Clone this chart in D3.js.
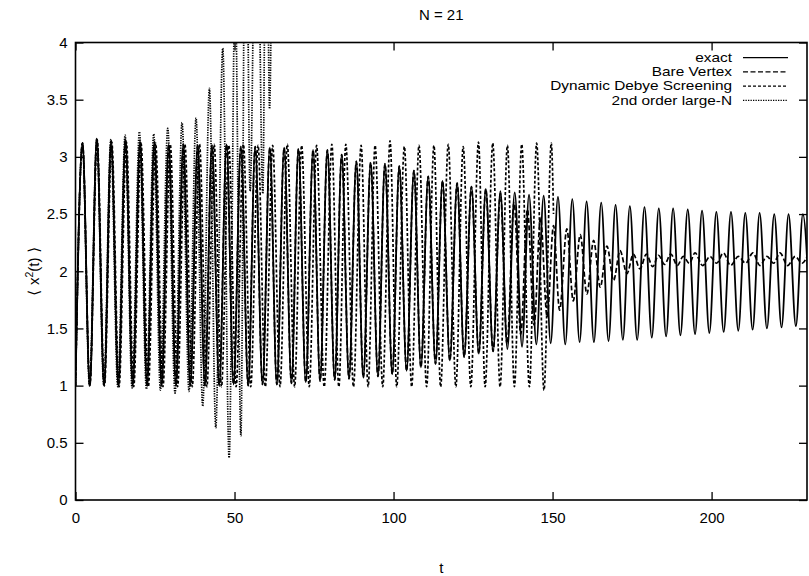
<!DOCTYPE html>
<html><head><meta charset="utf-8">
<script src="https://cdn.jsdelivr.net/npm/d3@7/dist/d3.min.js"></script>
<style>
html,body{margin:0;padding:0;background:#fff;}
text{font-family:"Liberation Sans",Arial,Helvetica,sans-serif;fill:#000;}
</style></head>
<body><svg id="c" width="809" height="576"></svg>
<script>
// ---------- data (extrema) ----------
const title = "N = 21";
const xTicks = [0, 50, 100, 150, 200];
const yTicks = [0, 0.5, 1, 1.5, 2, 2.5, 3, 3.5, 4];
const seriesNames = ["exact", "Bare Vertex", "Dynamic Debye Screening", "2nd order large-N"];

// exact
const exactPeakT = [2.2,6.7,11.2,15.7,20.3,24.8,29.3,33.9,38.4,42.9,47.5,52.0,56.5,61.1,65.6,70.1,74.7,79.2,83.7,88.3,92.8,97.3,101.8,106.4,110.9,115.4,120.0,124.5,129.0,133.6,138.1,142.6,147.2,151.7,156.2,160.7,165.3,169.8,174.3,178.9,183.4,187.9,192.5,197.0,201.5,206.1,210.6,215.1,219.7,224.2,228.7];
const exactPeakV = [3.12,3.16,3.14,3.15,3.13,3.13,3.11,3.11,3.10,3.10,3.11,3.09,3.09,3.08,3.08,3.07,3.06,3.06,3.02,2.96,2.95,2.94,2.92,2.88,2.83,2.79,2.77,2.74,2.72,2.70,2.69,2.67,2.66,2.65,2.63,2.61,2.60,2.58,2.57,2.56,2.55,2.55,2.54,2.53,2.52,2.52,2.51,2.51,2.50,2.50,2.50];
const exactTroughT = [0,4.5,9.0,13.5,18.0,22.5,27.1,31.6,36.1,40.7,45.2,49.7,54.3,58.8,63.3,67.9,72.4,76.9,81.5,86.0,90.5,95.1,99.6,104.1,108.6,113.2,117.7,122.2,126.8,131.3,135.8,140.4,144.9,149.4,154.0,158.5,163.0,167.6,172.1,176.6,181.2,185.7,190.2,194.8,199.3,203.8,208.4,212.9,217.4,222.0,226.5,231.0];
const exactTroughV = [1.00,1.00,1.00,1.00,1.00,1.00,1.00,1.00,1.00,1.00,1.00,1.01,1.00,1.01,1.01,1.02,1.03,1.04,1.05,1.06,1.07,1.08,1.10,1.13,1.16,1.19,1.22,1.25,1.28,1.30,1.32,1.34,1.36,1.37,1.36,1.38,1.38,1.39,1.40,1.40,1.42,1.43,1.44,1.45,1.46,1.47,1.48,1.49,1.50,1.51,1.52,1.53];

// Bare Vertex: lies on the exact curve up to t = 131.3, then damps
const bvaJoinT = 131.3;
const bvaT = [133.6,135.7,137.9,140.0,142.1,144.2,146.2,148.3,150.3,152.2,154.5,156.5,158.7,160.8,162.9,165.0,167.1,169.2,171.2,173.4,175.4,177.5,179.5,181.5,183.3,185.2,187.2,189.2,191.1,193.0,194.8,197.2,199.5,201.6,203.7,206.0,208.4,210.7,213.0,215.2,217.4,219.5,221.5,223.9,226.3,228.4,230.5];
const bvaV = [2.68,1.36,2.60,1.45,2.54,1.53,2.47,1.60,2.40,1.66,2.37,1.74,2.32,1.80,2.27,1.86,2.22,1.92,2.18,1.98,2.15,2.02,2.15,2.04,2.14,2.06,2.15,2.05,2.13,2.07,2.16,2.05,2.13,2.07,2.16,2.05,2.13,2.07,2.16,2.05,2.13,2.07,2.16,2.05,2.13,2.07,2.16];

// Dynamic Debye Screening
const ddsPeakT = [2.2,6.8,11.4,16.0,20.6,25.2,29.8,34.4,39.0,43.6,48.2,52.8,57.4,62.0,66.6,71.1,75.8,80.6,85.0,89.8,94.2,98.9,103.4,108.0,112.7,117.2,121.9,126.7,131.2,135.8,140.3,145.0,149.6];
const ddsPeakV = [3.12,3.15,3.13,3.13,3.12,3.12,3.11,3.11,3.11,3.11,3.10,3.11,3.10,3.10,3.11,3.10,3.10,3.11,3.11,3.10,3.10,3.14,3.09,3.10,3.10,3.11,3.09,3.13,3.12,3.10,3.11,3.12,3.12];
const ddsTroughT = [0,4.5,9.1,13.7,18.3,22.9,27.5,32.1,36.7,41.3,45.9,50.5,55.1,59.7,64.3,68.9,73.5,78.2,82.8,87.4,92.0,96.6,101.0,105.7,110.4,114.8,119.6,124.3,128.8,133.5,138.0,142.7,147.3,150.3];
const ddsTroughV = [1.00,1.00,1.00,0.99,0.99,0.99,0.99,0.99,0.99,0.99,0.99,0.99,0.99,0.99,0.99,0.99,0.99,0.99,0.99,0.99,0.99,0.99,0.99,0.99,0.99,0.99,0.99,0.99,0.99,0.99,0.99,0.99,0.96,2.50];

// 2nd order large-N (runs off the top of the plot)
const lnPeakT = [2.2,6.7,11.1,15.6,20.1,24.6,29.0,33.5,37.9,42.1,46.3,50.2,53.5,56.9,60.0,62.0];
const lnPeakV = [3.12,3.15,3.15,3.19,3.22,3.20,3.25,3.30,3.34,3.60,3.95,4.50,6.00,6.00,6.00,6.00];
const lnTroughT = [0,4.4,8.9,13.3,17.8,22.3,26.7,31.3,35.7,40.0,44.1,48.3,52.0,54.9,58.9,61.0];
const lnTroughV = [1.00,1.00,1.00,0.99,0.98,0.97,0.96,0.935,0.95,0.82,0.63,0.37,0.56,2.70,2.68,3.42];

// ---------- build ----------
function merge(ta, va, tb, vb) {
  const pts = ta.map((t, i) => [t, va[i]]).concat(tb.map((t, i) => [t, vb[i]]));
  return pts.sort((a, b) => a[0] - b[0]);
}
const exactPts = merge(exactPeakT, exactPeakV, exactTroughT, exactTroughV);
const bvaPts = exactPts.filter(p => p[0] <= bvaJoinT).concat(bvaT.map((t, i) => [t, bvaV[i]]));
const ddsPts = merge(ddsPeakT, ddsPeakV, ddsTroughT, ddsTroughV);
const lnPts = merge(lnPeakT, lnPeakV, lnTroughT, lnTroughV);

const svg = d3.select("#c");
const L = 75.5, R = 807, T = 42.5, B = 500;
const x = d3.scaleLinear().domain([0, 230]).range([L, R]);
const y = d3.scaleLinear().domain([0, 4]).range([B, T]);
const FS = 15;

svg.append("defs").append("clipPath").attr("id", "clip")
  .append("rect").attr("x", L).attr("y", T).attr("width", R - L).attr("height", B - T);

const styles = [
  {dash: null, w: 1.8},
  {dash: "5,2.5", w: 1.7},
  {dash: "3,2", w: 1.7},
  {dash: "1.3,1.2", w: 1.7}
];
const allPts = [exactPts, bvaPts, ddsPts, lnPts];

const line = d3.line().x(d => x(d[0])).y(d => y(d[1])).curve(d3.curveMonotoneX);
const g = svg.append("g").attr("clip-path", "url(#clip)");
allPts.forEach((pts, i) => {
  g.append("path").attr("d", line(pts)).attr("fill", "none")
    .attr("stroke", "#000").attr("stroke-width", styles[i].w)
    .attr("stroke-dasharray", styles[i].dash);
});

// axes (ticks inward on all four sides)
function styleAxis(sel) {
  sel.select(".domain").remove();
  sel.selectAll(".tick line").attr("stroke", "#000").attr("stroke-width", 1.3);
  sel.selectAll("text").attr("font-size", FS).attr("font-family", "Liberation Sans, Arial, sans-serif");
}
svg.append("g").attr("transform", `translate(0,${B})`)
  .call(d3.axisBottom(x).tickValues(xTicks).tickSize(-8).tickPadding(12).tickFormat(d3.format("d")))
  .call(styleAxis);
svg.append("g").attr("transform", `translate(0,${T})`)
  .call(d3.axisTop(x).tickValues(xTicks).tickSize(-8).tickFormat(""))
  .call(styleAxis);
svg.append("g").attr("transform", `translate(${L},0)`)
  .call(d3.axisLeft(y).tickValues(yTicks).tickSize(-8).tickPadding(8).tickFormat(d => String(d)))
  .call(styleAxis);
svg.append("g").attr("transform", `translate(${R},0)`)
  .call(d3.axisRight(y).tickValues(yTicks).tickSize(-8).tickFormat(""))
  .call(styleAxis);

svg.append("rect").attr("x", L).attr("y", T).attr("width", R - L).attr("height", B - T)
  .attr("fill", "none").attr("stroke", "#000").attr("stroke-width", 1.6);

// titles
svg.append("text").attr("x", (L + R) / 2).attr("y", 20).attr("text-anchor", "middle")
  .attr("font-size", FS).text(title);
svg.append("text").attr("x", (L + R) / 2).attr("y", 573).attr("text-anchor", "middle")
  .attr("font-size", FS).text("t");
const yl = svg.append("text").attr("transform", `translate(39,${(T + B) / 2}) rotate(-90)`)
  .attr("text-anchor", "middle").attr("font-size", FS);
yl.append("tspan").attr("font-family", "DejaVu Sans").text("\u27E8 ");
yl.append("tspan").text("x");
yl.append("tspan").attr("font-size", FS * 0.7).attr("dy", -6).text("2");
yl.append("tspan").attr("dy", 6).text("(t)");
yl.append("tspan").attr("font-family", "DejaVu Sans").text(" \u27E9");

// legend
const LFS = 12.4;
const lg = svg.append("g");
seriesNames.forEach((name, i) => {
  const by = 62 + i * 14.2;
  lg.append("text").attr("transform", `translate(732,${by}) scale(1.24,1)`)
    .attr("text-anchor", "end").attr("font-size", LFS).text(name);
  lg.append("line").attr("x1", 743).attr("x2", 788).attr("y1", by - 4.3).attr("y2", by - 4.3)
    .attr("stroke", "#000").attr("stroke-width", 1.3)
    .attr("stroke-dasharray", styles[i].dash);
});
</script></body></html>
